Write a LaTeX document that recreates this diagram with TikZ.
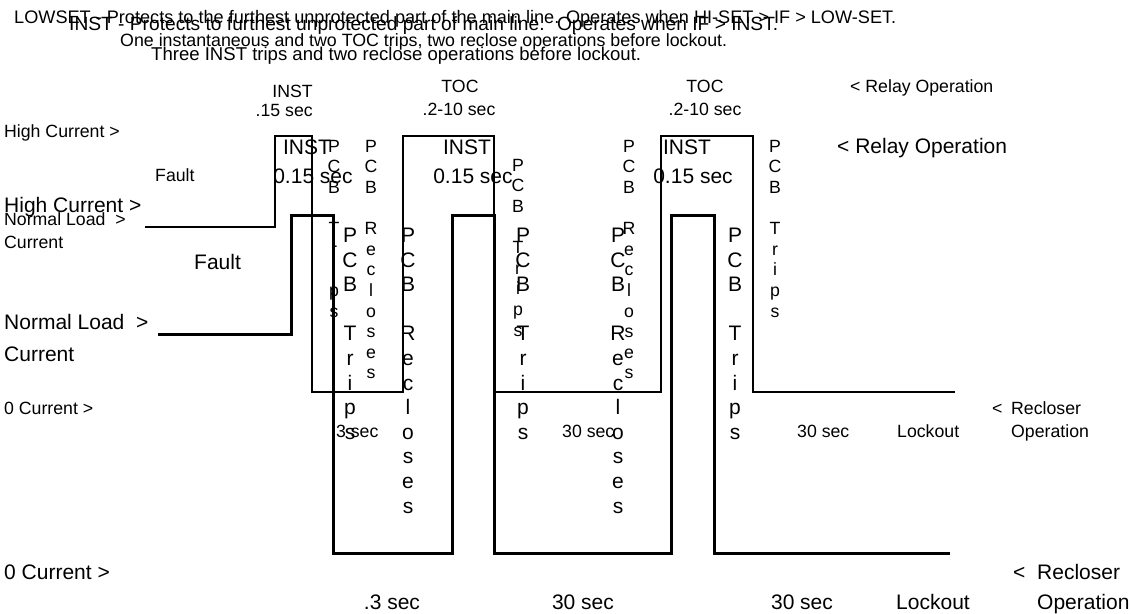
\documentclass[tikz,border=0pt]{standalone}
\usepackage{fontspec}
\setmainfont{Liberation Sans}
\usepackage{graphicx}
\newcommand\vcolumn[6]{\foreach \ch [count=\i from 0] in {#6} {\node[#5, anchor=base] (#1-\i) at (#2, {#3+\i*#4}) {\ch};}}
\begin{document}
\begin{tikzpicture}[x=1pt,y=-1pt,
  sm/.style={font=\fontsize{17.7}{20.6}\selectfont, inner sep=0pt},
  bg/.style={font=\fontsize{21}{24.6}\selectfont, inner sep=0pt},
  thinw/.style={line width=1.3pt, line join=miter},
  thickw/.style={line width=3pt, line join=miter}]
\useasboundingbox (0,0) rectangle (1131,613);
\fill[white] (0,0) rectangle (1131,613);

% ---------- waveforms ----------
\draw[thinw] (145,227) -- (275,227) -- (275,136) -- (312,136) -- (312,392) -- (403,392)
  -- (403,136) -- (494,136) -- (494,392) -- (661,392) -- (661,136) -- (753,136)
  -- (753,392) -- (955,392);
\draw[thickw] (158,334) -- (291,334) -- (291,215) -- (333,215) -- (333,553) -- (452,553)
  -- (452,215) -- (494,215) -- (494,553) -- (671,553) -- (671,215) -- (714,215)
  -- (714,553) -- (950,553);

% ---------- top lines ----------
\node[sm, anchor=base west] (t1) at (14,23.3) {\resizebox{882pt}{!}{LOWSET - Protects to the furthest unprotected part of the main line. Operates when HI-SET > IF > LOW-SET.}};
\node[bg, anchor=base west] (t2) at (69,30.4) {\resizebox{709pt}{!}{INST - Protects to furthest unprotected part of main line.~ Operates when IF > INST.}};
\node[sm, anchor=base west] (t3) at (120,46.3) {\resizebox{607pt}{!}{One instantaneous and two TOC trips, two reclose operations before lockout.}};
\node[sm, anchor=base west] (t4) at (151,60.7) {\resizebox{490pt}{!}{Three INST trips and two reclose operations before lockout.}};

% ---------- small diagram labels ----------
\node[sm, anchor=base east] (sinst) at (313,97.3) {INST};
\node[sm, anchor=base east] (sinstt) at (313,116.3) {.15 sec};
\node[sm, anchor=base] (stoc1) at (460,92.3) {TOC};
\node[sm, anchor=base] (stoc1t) at (459,115.3) {.2-10 sec};
\node[sm, anchor=base] (stoc2) at (705,92.3) {TOC};
\node[sm, anchor=base] (stoc2t) at (705,115.3) {.2-10 sec};
\node[sm, anchor=base west] (srelay) at (850,92.3) {< Relay Operation};
\node[sm, anchor=base west] (shigh) at (4,137.3) {High Current >};
\node[sm, anchor=base west] (sfault) at (155,181.3) {Fault};
\node[sm, anchor=base west] (snorm) at (4,225.3) {Normal Load~ >};
\node[sm, anchor=base west] (snormc) at (4,248.3) {Current};
\node[sm, anchor=base west] (szero) at (4,414.3) {0 Current >};
\node[sm, anchor=base west] (sreclt) at (992,414.3) {<};
\node[sm, anchor=base west] (srecl) at (1011,414.3) {Recloser};
\node[sm, anchor=base west] (sop) at (1011,437.3) {Operation};
\node[sm, anchor=base west] (sd1) at (331,437.3) {.3 sec};
\node[sm, anchor=base west] (sd2) at (562,437.3) {30 sec};
\node[sm, anchor=base west] (sd3) at (797,437.3) {30 sec};
\node[sm, anchor=base west] (slock) at (897,437.3) {Lockout};

\vcolumn{sc1}{334}{152.3}{20.6}{sm}{P,C,B,{},T,r,i,p,s}
\vcolumn{sc2}{371}{152.3}{20.6}{sm}{P,C,B,{},R,e,c,l,o,s,e,s}
\vcolumn{sc3}{518}{171.3}{20.6}{sm}{P,C,B,{},T,r,i,p,s}
\vcolumn{sc4}{629}{152.3}{20.6}{sm}{P,C,B,{},R,e,c,l,o,s,e,s}
\vcolumn{sc5}{775}{152.3}{20.6}{sm}{P,C,B,{},T,r,i,p,s}

% ---------- big diagram labels ----------
\node[bg, anchor=base] (binst1) at (307,154.5) {INST};
\node[bg, anchor=base] (binst1t) at (313,183.5) {0.15 sec};
\node[bg, anchor=base] (binst2) at (467,154.5) {INST};
\node[bg, anchor=base] (binst2t) at (473,183.5) {0.15 sec};
\node[bg, anchor=base] (binst3) at (687,154.5) {INST};
\node[bg, anchor=base] (binst3t) at (693,183.5) {0.15 sec};
\node[bg, anchor=base west] (brelay) at (837,153.5) {< Relay Operation};
\node[bg, anchor=base west] (bhigh) at (4,212.5) {High Current >};
\node[bg, anchor=base west] (bfault) at (194,269.5) {Fault};
\node[bg, anchor=base west] (bnorm) at (4,329.5) {Normal Load~ >};
\node[bg, anchor=base west] (bnormc) at (4,361.5) {Current};
\node[bg, anchor=base west] (bzero) at (4,579.5) {0 Current >};
\node[bg, anchor=base west] (breclt) at (1013,579.5) {<};
\node[bg, anchor=base west] (brecl) at (1037,579.5) {Recloser};
\node[bg, anchor=base west] (bop) at (1037,609.5) {Operation};
\node[bg, anchor=base] (bd1) at (392,609.5) {.3 sec};
\node[bg, anchor=base] (bd2) at (583,609.5) {30 sec};
\node[bg, anchor=base] (bd3) at (802,609.5) {30 sec};
\node[bg, anchor=base] (block) at (933,609.5) {Lockout};

\vcolumn{bc1}{350}{242.5}{24.6}{bg}{P,C,B,{},T,r,i,p,s}
\vcolumn{bc2}{408}{242.5}{24.6}{bg}{P,C,B,{},R,e,c,l,o,s,e,s}
\vcolumn{bc3}{523}{242.5}{24.6}{bg}{P,C,B,{},T,r,i,p,s}
\vcolumn{bc4}{618}{242.5}{24.6}{bg}{P,C,B,{},R,e,c,l,o,s,e,s}
\vcolumn{bc5}{735}{242.5}{24.6}{bg}{P,C,B,{},T,r,i,p,s}
\end{tikzpicture}
\end{document}
